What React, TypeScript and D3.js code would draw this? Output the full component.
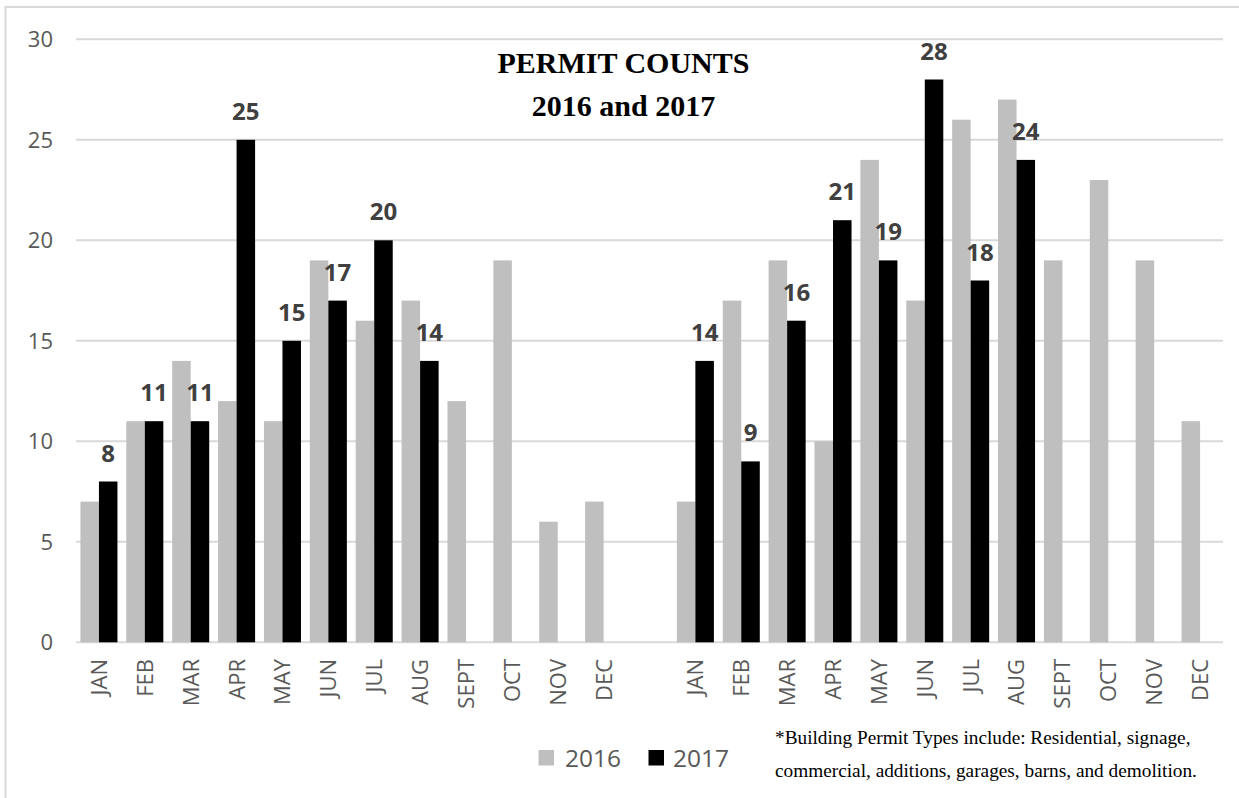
import React from "react";
import * as d3 from "d3";

const months = ["JAN", "FEB", "MAR", "APR", "MAY", "JUN", "JUL", "AUG", "SEPT", "OCT", "NOV", "DEC"];
const seriesNames = ["2016", "2017"];
const groupAValues2016 = [7, 11, 14, 12, 11, 19, 16, 17, 12, 19, 6, 7];
const groupAValues2017: (number | null)[] = [8, 11, 11, 25, 15, 17, 20, 14, null, null, null, null];
const groupBValues2016 = [7, 17, 19, 10, 24, 17, 26, 27, 19, 23, 19, 11];
const groupBValues2017: (number | null)[] = [14, 9, 16, 21, 19, 28, 18, 24, null, null, null, null];
const yTicks = [0, 5, 10, 15, 20, 25, 30];
const titleLines = ["PERMIT COUNTS", "2016 and 2017"];
const footnoteLines = [
  "*Building Permit Types include: Residential, signage,",
  "commercial, additions, garages, barns, and demolition.",
];

type Cat = { key: string; label: string; v2016: number | null; v2017: number | null };

const categories: Cat[] = [
  ...months.map((m, i) => ({ key: "A-" + m, label: m, v2016: groupAValues2016[i], v2017: groupAValues2017[i] })),
  { key: "GAP", label: "", v2016: null, v2017: null },
  ...months.map((m, i) => ({ key: "B-" + m, label: m, v2016: groupBValues2016[i], v2017: groupBValues2017[i] })),
];

const W = 1239;
const H = 798;
const colors: Record<string, string> = { "2016": "#bfbfbf", "2017": "#000000" };
const gridColor = "#d9d9d9";
const tickColor = "#595959";
const sans = "'Open Sans', 'Segoe UI', sans-serif";
const serif = "'Liberation Serif', 'Times New Roman', serif";

export default function App() {
  const x = d3
    .scaleBand<string>()
    .domain(categories.map((c) => c.key))
    .range([76, 1223])
    .paddingInner(0.193)
    .paddingOuter(0.0965);
  const xs = d3.scaleBand<string>().domain(seriesNames).range([0, x.bandwidth()]);
  const y = d3.scaleLinear().domain([0, 30]).range([642.3, 39.3]);

  return (
    <svg width={W} height={H} style={{ position: "absolute", left: 0, top: 0, background: "#fff" }}>
      <rect x={5.5} y={7} width={W + 50} height={H + 50} fill="#fff" stroke={gridColor} strokeWidth={2} />
      {/* gridlines */}
      {yTicks.map((t) => (
        <line key={"g" + t} x1={76} x2={1223} y1={y(t)} y2={y(t)} stroke={gridColor} strokeWidth={2} />
      ))}
      {/* y tick labels */}
      {yTicks.map((t) => (
        <text
          key={"yt" + t}
          x={53}
          y={y(t)}
          dy="0.36em"
          textAnchor="end"
          fontFamily={sans}
          fontSize={22}
          fill={tickColor}
        >
          {t}
        </text>
      ))}
      {/* bars */}
      {categories.map((c) =>
        seriesNames.map((s) => {
          const v = s === "2016" ? c.v2016 : c.v2017;
          if (v == null) return null;
          const bx = (x(c.key) as number) + (xs(s) as number);
          return (
            <rect
              key={c.key + s}
              x={bx}
              y={y(v)}
              width={xs.bandwidth()}
              height={y(0) - y(v)}
              fill={colors[s]}
            />
          );
        })
      )}
      {/* data labels for 2017 */}
      {categories.map((c) => {
        if (c.v2017 == null) return null;
        const cx = (x(c.key) as number) + (xs("2017") as number) + xs.bandwidth() / 2;
        return (
          <text
            key={"dl" + c.key}
            x={cx}
            y={y(c.v2017) - 20}
            textAnchor="middle"
            fontFamily={sans}
            fontWeight="bold"
            fontSize={24}
            fill="#404040"
          >
            {c.v2017}
          </text>
        );
      })}
      {/* month labels */}
      {categories.map((c) => {
        if (!c.label) return null;
        const cx = (x(c.key) as number) + x.bandwidth() / 2;
        return (
          <text
            key={"ml" + c.key}
            transform={`translate(${cx},659) rotate(-90)`}
            dy="0.36em"
            textAnchor="end"
            fontFamily={sans}
            fontSize={22}
            fill={tickColor}
          >
            {c.label}
          </text>
        );
      })}
      {/* title */}
      {titleLines.map((t, i) => (
        <text
          key={"t" + i}
          x={623.5}
          y={73.3 + i * 42.7}
          textAnchor="middle"
          fontFamily={serif}
          fontWeight="bold"
          fontSize={30}
          fill="#000"
        >
          {t}
        </text>
      ))}
      {/* legend */}
      <rect x={538.5} y={750} width={15.5} height={15.5} fill={colors["2016"]} />
      <text x={565} y={766.5} fontFamily={sans} fontSize={24.5} fill={tickColor}>
        {seriesNames[0]}
      </text>
      <rect x={648.5} y={750} width={15.5} height={15.5} fill={colors["2017"]} />
      <text x={673} y={766.5} fontFamily={sans} fontSize={24.5} fill={tickColor}>
        {seriesNames[1]}
      </text>
      {/* footnote */}
      {footnoteLines.map((t, i) => (
        <text key={"f" + i} x={775} y={744 + i * 33.3} fontFamily={serif} fontSize={19.3} fill="#000">
          {t}
        </text>
      ))}
    </svg>
  );
}
